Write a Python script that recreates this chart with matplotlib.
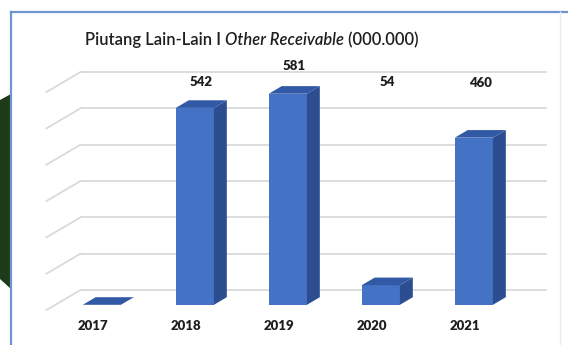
import matplotlib
matplotlib.use("Agg")
import matplotlib.pyplot as plt
from matplotlib.patches import Polygon
import numpy as np

# ---------------- data ----------------
years = ["2017", "2018", "2019", "2020", "2021"]
values = [0, 542, 581, 54, 460]
value_labels = ["", "542", "581", "54", "460"]
gridlines = [0, 100, 200, 300, 400, 500, 600]
title_parts = [("Piutang Lain-Lain I ", "normal"),
               ("Other Receivable", "italic"),
               (" (000.000)", "normal")]

# ---------------- layout ----------------
W, H, DPI = 568, 345, 100
cat_px = 93.0          # pixels per category
cat0_px = 93.0         # pixel x of first category
front_zero_px = 310.0  # pixel y of value 0 on the front plane
px_per_val = 0.3633    # pixels per value unit
depth_dx_px = 34.0     # full depth shift (x)
depth_dy_px = 20.0     # full depth shift (y, upward)
bar_d0 = 0.26          # depth of bar front face (fraction)
bar_dd = 0.38          # bar depth (fraction)
bar_w = 0.41           # bar width in categories
label_levels = [None, 627, 672, 627, 624]   # label heights (value units)
year_label_px = 326

FONT = "Lato"
front_c, side_c, top_c = "#4472C4", "#2C4E90", "#3259A5"
grid_c = "#dadada"
text_c = "#1f1f1f"

fig = plt.figure(figsize=(W / DPI, H / DPI), dpi=DPI)
fig.patch.set_facecolor("white")

bg = fig.add_axes([0, 0, 1, 1])
bg.set_xlim(0, W)
bg.set_ylim(H, 0)
bg.axis("off")

ax = fig.add_axes([0, 0, 1, 1])
ax.patch.set_alpha(0)
xmin = -cat0_px / cat_px
ax.set_xlim(xmin, xmin + W / cat_px)
ax.set_ylim(-(H - front_zero_px) / px_per_val, front_zero_px / px_per_val)
ax.axis("off")

DX = depth_dx_px / cat_px
DY = depth_dy_px / px_per_val

# slide decoration & chart frame
bg.add_patch(Polygon([(0, 100), (11, 94), (11, 289), (0, 279)],
                     closed=True, facecolor="#1d3a19", edgecolor="none", zorder=0))
bg.plot([11, 11], [12, H + 2], color="#6f94d2", lw=1.6, zorder=1)
bg.plot([11, W + 2], [12, 12], color="#6f94d2", lw=1.6, zorder=1)
bg.plot([560, 560], [12, H + 2], color="#e6ebf4", lw=1.0, zorder=1)

# grid: back wall and left side wall
n = len(years)
x_left, x_right = -0.5, n - 0.5
for g in gridlines:
    ax.plot([x_left + DX, x_right + DX], [g + DY, g + DY], color=grid_c, lw=1.3, zorder=1)
    ax.plot([x_left, x_left + DX], [g, g + DY], color=grid_c, lw=1.3, zorder=1)

# 3D-looking bars
x = np.arange(n)
xf = x + DX * bar_d0
yb = DY * bar_d0
ddx, ddy = DX * bar_dd, DY * bar_dd
ax.bar(xf, values, width=bar_w, bottom=yb, color=front_c, zorder=3, linewidth=0)
for xi, v in zip(xf, values):
    xl, xr = xi - bar_w / 2, xi + bar_w / 2
    yt = yb + v
    ax.add_patch(Polygon([(xr, yb), (xr + ddx, yb + ddy), (xr + ddx, yt + ddy), (xr, yt)],
                         closed=True, facecolor=side_c, edgecolor="none", zorder=3))
    ax.add_patch(Polygon([(xl, yt), (xr, yt), (xr + ddx, yt + ddy), (xl + ddx, yt + ddy)],
                         closed=True, facecolor=top_c, edgecolor="none", zorder=4))

# value labels
for xi, lab, lv in zip(xf, value_labels, label_levels):
    if lab and lv is not None:
        ax.text(xi + ddx / 2, lv, lab, ha="center", va="center", fontsize=9.5,
                fontweight="heavy", color=text_c, family=FONT, zorder=5)

# category labels
yl = (front_zero_px - year_label_px) / px_per_val
for xi, yr in zip(x, years):
    ax.text(xi, yl, yr, ha="center", va="center", fontsize=9.5,
            fontweight="heavy", color=text_c, family=FONT, zorder=5)

# title built from parts
renderer = fig.canvas.get_renderer()
title_x0, title_base, title_width, fs = 85, 45, 333, 12.0
def draw_title(fs):
    arts, xx = [], title_x0
    for txt, st in title_parts:
        t = bg.text(xx, title_base, txt, fontsize=fs, style=st, ha="left",
                    va="baseline", color=text_c, family=FONT, fontweight="semibold",
                    zorder=5)
        xx += t.get_window_extent(renderer).width
        arts.append(t)
    return arts, xx - title_x0
arts, tw = draw_title(fs)
for a in arts:
    a.remove()
arts, tw = draw_title(fs * title_width / tw)

fig.savefig("out.png", dpi=DPI)
